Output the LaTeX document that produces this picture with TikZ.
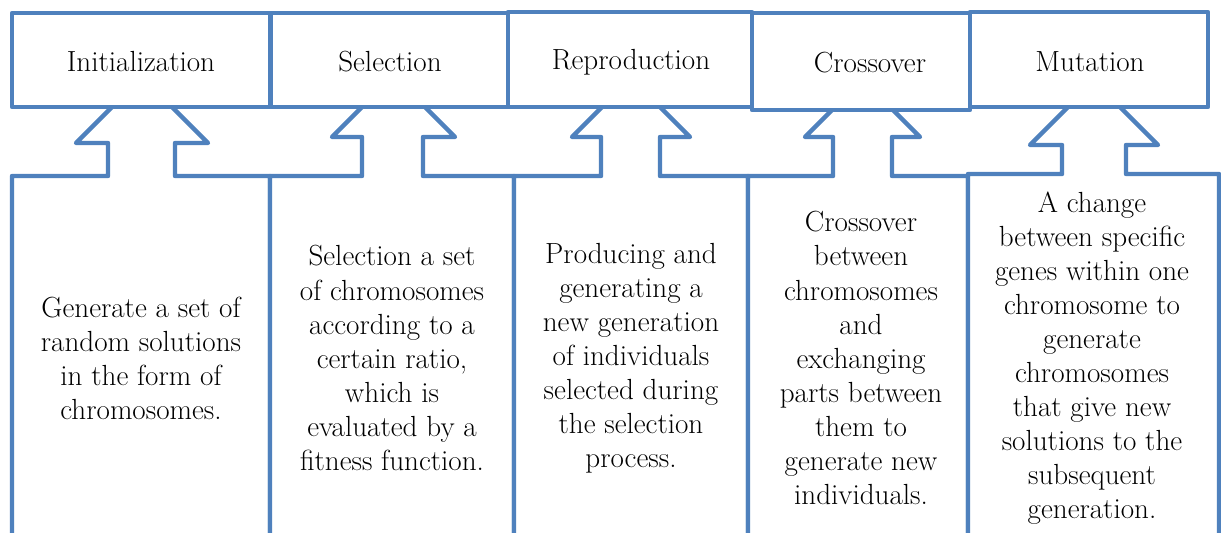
\documentclass[tikz,border=0pt]{standalone}
\definecolor{boxblue}{RGB}{79,129,189}
\tikzset{
    outline/.style={draw=boxblue,line width=1.1mm,line join=round,fill=white},
    desc/.style={align=center,inner sep=0pt}
}
\begin{document}
\begin{tikzpicture}[x=0.025cm,y=-0.025cm,font=\fontsize{20.7}{24.2}\selectfont]
    \useasboundingbox (0,0) rectangle (1221,532);
    \clip (0,0) rectangle (1221,532);
    % lower boxes with their arrows pointing up
    \foreach \lx/\rx/\ty/\sa/\sb/\hy/\ha/\hb in {12/270/176/108/175/143/76/208,
        270/514/176/362/423/137/332/455, 514/748/176/601/660/137/572/690,
        748/968/176/833/892/137/805/920, 968/1219/174/1062/1126/145/1030/1158}{
        \path[outline] (\lx,560) -- (\lx,\ty) -- (\sa,\ty) -- (\sa,\hy) -- (\ha,\hy)
            -- ({(\ha+\hb)/2},{\hy-(\hb-\ha)/2}) -- (\hb,\hy) -- (\sb,\hy)
            -- (\sb,\ty) -- (\rx,\ty) -- (\rx,560) -- cycle;
    }
    % upper boxes
    \foreach \xa/\ya/\xb/\yb in {12/13/270/107, 271/13/508/107, 508/12/752/107,
        752/13/970/110, 970/12/1208/107}{
        \path[outline] (\xa,\ya) rectangle (\xb,\yb);
    }
    \node (init) at (141,62) {Initialization};
    \node (sel) at (390,62) {Selection};
    \node (repr) at (631,62) {Reproduction};
    \node (cross) at (870,63) {Crossover};
    \node (mut) at (1090,62) {Mutation};

    \node[desc] (initdesc) at (141,358) {Generate a set of\\random solutions\\in the form of\\chromosomes.};
    \node[desc] (seldesc) at (392,358) {Selection a set\\of chromosomes\\according to a\\certain ratio,\\which is\\evaluated by a\\fitness function.};
    \node[desc] (reprdesc) at (631,358) {Producing and\\generating a\\new generation\\of individuals\\selected during\\the selection\\process.};
    \node[desc] (crossdesc) at (861,358) {Crossover\\between\\chromosomes\\and\\exchanging\\parts between\\them to\\generate new\\individuals.};
    \node[desc] (mutdesc) at (1092,358) {A change\\between specific\\genes within one\\chromosome to\\generate\\chromosomes\\that give new\\solutions to the\\subsequent\\generation.};
\end{tikzpicture}
\end{document}
